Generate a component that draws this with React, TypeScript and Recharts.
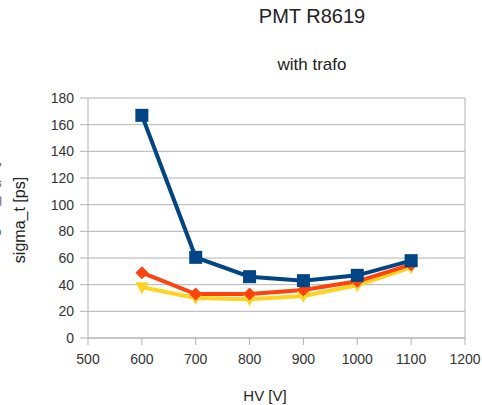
import React from "react";
import { LineChart, Line, XAxis, YAxis, CartesianGrid } from "recharts";

const hvValues = [600, 700, 800, 900, 1000, 1100];
const seriesBlue = [167, 60.5, 46, 43, 47, 58];
const seriesOrange = [49, 33, 33, 36, 42.5, 55];
const seriesYellow = [38, 30, 29, 31.5, 39.5, 53];
const xTicks = [500, 600, 700, 800, 900, 1000, 1100, 1200];
const yTicks = [0, 20, 40, 60, 80, 100, 120, 140, 160, 180];

const data = hvValues.map((hv, i) => ({
  hv,
  blue: seriesBlue[i],
  orange: seriesOrange[i],
  yellow: seriesYellow[i],
}));

const BLUE = "#004586";
const ORANGE = "#ff420e";
const YELLOW = "#ffd320";
const GRID = "#b3b3b3";
const FONT = "'Liberation Sans', Arial, sans-serif";

const SquareDot = (props: any) => {
  const { cx, cy, index } = props;
  if (cx == null || cy == null) return null;
  return <rect key={`s${index}`} x={cx - 6.5} y={cy - 6.5} width={13} height={13} fill={BLUE} />;
};
const DiamondDot = (props: any) => {
  const { cx, cy, index } = props;
  if (cx == null || cy == null) return null;
  const r = 6.5;
  return (
    <polygon
      key={`d${index}`}
      points={`${cx},${cy - r} ${cx + r},${cy} ${cx},${cy + r} ${cx - r},${cy}`}
      fill={ORANGE}
    />
  );
};
const TriDot = (props: any) => {
  const { cx, cy, index } = props;
  if (cx == null || cy == null) return null;
  const r = 6.5;
  return (
    <polygon
      key={`t${index}`}
      points={`${cx - r},${cy - 5} ${cx + r},${cy - 5} ${cx},${cy + 7}`}
      fill={YELLOW}
    />
  );
};

export default function App() {
  return (
    <div style={{ position: "absolute", left: 0, top: 0, width: 482, height: 405, background: "#fff" }}>
      <LineChart
        width={482}
        height={405}
        data={data}
        margin={{ top: 98, right: 17, bottom: 37, left: 0 }}
      >
        <CartesianGrid horizontal={true} vertical={false} stroke={GRID} strokeWidth={1} />
        <XAxis
          dataKey="hv"
          type="number"
          domain={[500, 1200]}
          ticks={xTicks}
          interval={0}
          stroke={GRID}
          tickSize={7}
          tickMargin={9}
          height={30}
          tick={{ fill: "#333", fontSize: 14, fontFamily: FONT }}
        />
        <YAxis
          type="number"
          domain={[0, 180]}
          ticks={yTicks}
          interval={0}
          stroke={GRID}
          width={88}
          tickSize={8}
          tickMargin={6}
          tick={{ fill: "#333", fontSize: 14, fontFamily: FONT }}
        />
        <Line
          dataKey="yellow"
          stroke={YELLOW}
          strokeWidth={4}
          dot={TriDot}
          activeDot={false}
          isAnimationActive={false}
        />
        <Line
          dataKey="orange"
          stroke={ORANGE}
          strokeWidth={4}
          dot={DiamondDot}
          activeDot={false}
          isAnimationActive={false}
        />
        <Line
          dataKey="blue"
          stroke={BLUE}
          strokeWidth={4}
          dot={SquareDot}
          activeDot={false}
          isAnimationActive={false}
        />
      </LineChart>
      <svg
        width={482}
        height={405}
        style={{ position: "absolute", left: 0, top: 0, pointerEvents: "none" }}
      >
        <line x1={465} y1={98} x2={465} y2={338} stroke={GRID} strokeWidth={1} />
        <text x={312} y={23} textAnchor="middle" fontFamily={FONT} fontSize={20} fill="#222">
          PMT R8619
        </text>
        <text x={312} y={70} textAnchor="middle" fontFamily={FONT} fontSize={17} fill="#222">
          with trafo
        </text>
        <text x={265} y={401} textAnchor="middle" fontFamily={FONT} fontSize={15} fill="#222">
          HV [V]
        </text>
        <text
          x={25}
          y={220}
          textAnchor="middle"
          fontFamily={FONT}
          fontSize={16}
          fill="#222"
          transform="rotate(-90 25 220)"
        >
          sigma_t [ps]
        </text>
        <text
          x={-2}
          y={205}
          textAnchor="middle"
          fontFamily={FONT}
          fontSize={16}
          fill="#666"
          transform="rotate(-90 -2 205)"
        >
          sigma_t [ps]
        </text>
      </svg>
    </div>
  );
}
